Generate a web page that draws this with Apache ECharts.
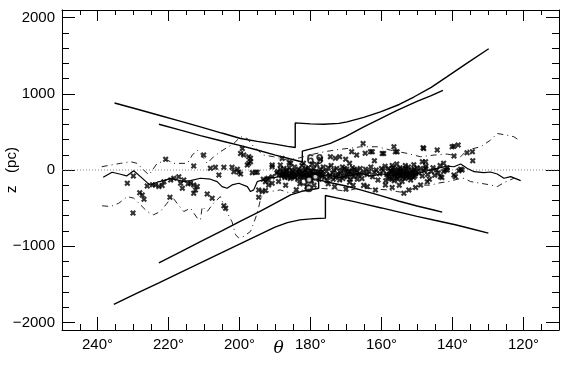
<!DOCTYPE html>
<html><head><meta charset="utf-8">
<script src="https://cdn.jsdelivr.net/npm/echarts@6/dist/echarts.min.js"></script>
<style>html,body{margin:0;padding:0;background:#fff}#c{width:570px;height:365px}</style>
</head><body><div id="c"></div>
<script>
// axis ticks / labels
const xLabelValues = [120, 140, 160, 180, 200, 220, 240];
const yLabelValues = [-2000, -1000, 0, 1000, 2000];
const yMinorValues = [-2000,-1800,-1600,-1400,-1200,-1000,-800,-600,-400,-200,0,200,400,600,800,1000,1200,1400,1600,1800,2000];

// boundary curves [theta, z]
const upperOuter = [[235.2,880],[229,800],[222.7,719],[217,645],[211,566],[205,485],[199.7,414],[195,375],[190,340],[186.5,310],[184.3,295],[184.3,618],[180,605],[176.3,601],[172,612],[169.7,631],[165,690],[160.3,762],[155,860],[150.9,958],[146,1085],[141.5,1225],[136,1400],[129.8,1591]];
const upperInner = [[222.7,601],[216.6,523],[211,452],[205,380],[199.7,320],[195,262],[189.9,196],[185.6,144],[182.3,105],[182.3,248],[178,300],[174.4,349],[170,440],[165,566],[160.3,675],[155.6,784],[150,900],[146,975],[142.7,1046]];
const lowerInner = [[222.7,-1219],[216.6,-1075],[211,-940],[205,-800],[199.7,-670],[194.5,-550],[189.9,-435],[185.6,-327],[182,-275],[177.7,-240],[177.7,-130],[174,-170],[170,-210],[165.9,-261],[160,-340],[155,-410],[150,-472],[145,-528],[142.9,-553]];
const lowerOuter = [[235.4,-1764],[229,-1620],[222.7,-1480],[216,-1330],[211,-1220],[205,-1085],[199.7,-965],[195,-860],[190,-750],[186.5,-690],[183,-655],[179,-638],[175.8,-632],[175.8,-335],[172,-372],[168,-412],[165.9,-435],[160,-498],[155,-553],[150,-608],[145,-660],[139.2,-719],[135,-768],[129.9,-828]];

// mean line
const meanLine = [[238.4,-95],[235.9,-30],[233.5,-56],[231.8,-78],[229.8,-9],[227.9,-87],[226,-166],[225.1,-196],[223.2,-160],[221.3,-140],[219.4,-110],[217.6,-130],[216,-150],[213.8,-140],[211,-108],[208.2,-121],[206.3,-153],[204.9,-218],[203.5,-239],[202.1,-196],[200.2,-174],[197.8,-218],[196.9,-283],[196,-261],[195,-153],[193.6,-131],[192.2,-96],[189.9,-96],[187,-70],[185,-110],[183,-60],[181,-90],[179,-50],[177,-80],[175,-60],[172,-100],[169,-70],[166,-40],[163,-80],[160,-50],[157,-70],[154,-30],[151,-60],[148,-20],[146,0],[144.3,22],[141.5,52],[139.6,43],[137.7,78],[135.9,22],[133.9,-22],[131.2,-35],[129.3,-26],[127.4,-52],[125.5,-108],[123.6,-87],[120.8,-140]];

// dash-dot envelopes
const upperEnvelope = [[238.8,43],[236.3,65],[233.5,87],[230.7,109],[228.8,87],[227,0],[225.5,-65],[223.2,87],[220.4,131],[218.5,87],[214.7,87],[213.3,196],[211.9,261],[211,218],[209.1,87],[207.3,174],[205.4,240],[201.6,349],[199.7,436],[197.8,414],[196,305],[193.2,196],[190.4,174],[186.6,131],[183,160],[180,200],[176,240],[172,270],[168,290],[165.9,305],[161.2,305],[157.5,261],[152.8,218],[149,174],[145.2,196],[141.5,209],[137.7,174],[135.9,261],[132.1,305],[129.3,392],[127.4,479],[124.6,457],[122.7,436],[121.3,392]];
const lowerEnvelope = [[238.7,-470],[236.3,-479],[234,-436],[231.6,-349],[229.8,-370],[227.9,-457],[226,-545],[224.2,-588],[222.3,-545],[220.4,-436],[219,-349],[217.6,-436],[215.7,-545],[213.8,-501],[211.9,-632],[211,-654],[210.5,-480],[209.1,-545],[207.3,-436],[205.4,-349],[203.5,-560],[202.1,-680],[201.1,-850],[200.2,-893],[198.8,-871],[196.9,-806],[196,-697],[195,-566],[194.1,-392],[193.2,-290],[191.3,-283],[188.5,-261],[185.6,-305],[182,-260],[178,-240],[174,-250],[170,-280],[166,-230],[162,-250],[158.4,-261],[155.6,-283],[153.7,-296],[151.8,-261],[150.4,-226],[149,-196],[146,-200],[144.3,-174],[141,-150],[138.5,-120],[136.8,-109],[134.9,-152],[132.1,-174],[129.3,-196],[127.4,-218],[125.5,-166],[122.7,-109]];

const zeroLine = [[250,0],[110,0]];

// individual objects (x markers)
const stars = [
[231.6,-174],[229.9,-78],[227.4,-327],[226.9,-383],[230,-566],[228.1,-300],[226,-210],[224.5,-195],[223.7,-196],[222.7,-218],[221.8,-205],[221.3,-153],[220.8,140],[219.6,-357],[219.4,-131],[218.5,-109],[217.1,-87],[216.6,-174],[215.7,-131],[216.1,-240],[214.5,-180],[213.8,-174],[212.9,-196],[211.9,-218],[212.4,-261],[212.9,-305],[212.9,52],[210.1,196],[209.1,-314],[207.7,-370],[208.2,22],[206.8,35],[205.8,-65],[204.4,35],[203.9,-501],[204.4,-470],[202.1,35],[201.6,-22],[200.6,9],[200.2,-30],[199.7,-52],[199.7,218],[198.8,196],[199.2,283],[197.4,174],[196.9,153],[196.9,109],[197.8,65],[197.4,87],[196.4,-35],[195.5,-30],[195,-30],[194.6,-357],[194.6,-261],[193.6,-283],[192.7,-270],[193.3,-122],[192.7,-153],[192.2,-131],[192,-109],[191.8,-196],[190.8,-174],[190.8,-87],[190.8,43],[190.8,65],[188.5,65],[185.6,87],
[189.5,-40],[189.2,-20],[188.8,-60],[188.5,10],[188.1,-80],[187.8,-30],[187.5,20],[187.2,-100],[186.9,-50],[186.6,0],[186.3,-70],[186,30],[185.7,-110],[185.4,-40],[185.1,-10],[184.8,-80],[184.5,40],[184.2,-60],[183.9,-20],[183.6,-120],[183.3,10],[183,-50],[182.7,-90],[182.4,60],[182.1,-30],[181.8,-70],[181.5,0],[181.2,-110],[180.9,-40],[180.6,30],[180.3,-80],[180,-10],[179.7,-140],[179.4,-50],[179.1,20],[178.8,-90],[178.5,-20],[178.2,70],[177.9,-60],[177.6,-120],[177.3,10],[177,-40],[176.7,-80],[176.4,40],
[187.9,-45],[187.4,-75],[186.8,-15],[186.4,-95],[185.9,-60],[185.3,-85],[184.9,-30],[184.4,-100],[183.8,-70],[183.2,-40],[182.8,-10],[182.3,-100],[181.7,-50],[181.3,20],[180.8,-90],[180.4,-60],[180.1,-110],[179.6,-20],[179,-70],[178.4,-100],[177.8,-30],[177.1,-60],[176.6,-20],[176.1,-100],
[188,150],[186,100],[183,-180],[181,-220],[179,-200],[184,-260],[187,-200],[189,-150],[177.2,140],[174.4,174],[170.1,140],[182,90],[179.5,80],
[175.5,-20],[175,30],[174.5,-70],[174.2,60],[173.8,-40],[173.4,0],[173,-100],[172.6,20],[172.2,-60],[171.8,-130],[171.4,-10],[171,40],[170.6,-80],[170.2,-30],[169.8,10],[169.4,-50],[169,-160],[168.6,-20],[168.2,30],[167.8,-90],[167.4,-40],[167,0],[166.5,-70],[166,20],[165.5,-110],[165,-40],[164.5,10],[164,-60],[163.5,-20],[163,40],[162.5,-90],[162,-30],[161.5,0],[161,-130],[160.5,-50],[160,20],
[171.6,-50],[170.9,-110],[170.4,20],[169.6,-90],[169.1,-20],[168.8,-120],[168.3,-60],[167.6,10],[166.8,-120],[166.2,-50],[172.8,-70],[173.6,-120],[174.8,-90],[175.3,-140],
[173,153],[171.8,174],[168.4,240],[165.2,349],[163.1,240],[164.6,220],[167,196],[169,90],[162,120],[162.6,240],[159.8,218],[159.4,218],
[175,-180],[173.2,-220],[170,-250],[168,-200],[165,-200],[164,-218],[161.7,-261],[158.9,-196],
[159.5,-10],[159,50],[158.5,-60],[158,20],[157.7,-110],[157.3,-30],[157,60],[156.6,-80],[156.3,0],[156,-40],[155.7,80],[155.4,-120],[155.1,-20],[154.8,30],[154.5,-70],[154.2,-150],[153.9,10],[153.6,-40],[153.3,60],[153,-90],[152.7,-10],[152.4,40],[152.1,-60],[151.8,-130],[151.5,0],[151.2,-30],[150.9,70],[150.6,-80],[150.3,-20],[150,30],[155.5,-50],[154,-100],[156.8,-20],[152.9,-40],[151,-100],[157.9,-60],[158.8,-140],
[158.2,-90],[157.5,-10],[157.1,-120],[156.7,30],[156.2,-60],[155.8,-100],[155.3,10],[154.9,-80],[154.4,-30],[153.8,-60],[153.4,-110],[153.1,20],[152.6,-70],[152.2,-100],[151.7,-40],[151.3,-80],[150.8,10],[150.4,-50],[154.6,-10],[156.4,-140],
[157,-230],[155,-200],[153.7,-305],[152.3,-261],[150.4,-230],[149,-196],[147.1,-153],[143.4,-87],
[156.5,305],[155.6,240],[156.1,240],[148.3,292],[148.1,283],[144.3,261],[148.5,109],[147.6,109],[147.6,22],[142.5,87],[142,0],
[149.5,-40],[149,20],[148.5,-80],[148,-10],[147.5,50],[147,-60],[146.5,-120],[146,-20],[145.5,30],[145,-70],[144.5,0],[144,-40],[143.5,60],[143,-100],[142.5,-20],[141.5,30],
[139.6,313],[138.4,327],[140.1,305],[139.6,183],[135.9,226],[134.4,240],[134.3,122],[137.7,9],[138.2,-9],[137.3,0],[139.6,-65],[139.2,-87],[141.5,0]
];
const circles = [[181.9,-150],[180.4,-128],[180.5,-240],[178.6,-87]];
const tagLabels = ['6', '9'];
const tagPos = [[180.0,125],[177.4,128]];

const FONT = 'Liberation Sans';
const xSym = 'path://M0,2.5L2.5,0L5,2.5L7.5,0L10,2.5L7.5,5L10,7.5L7.5,10L5,7.5L2.5,10L0,7.5L2.5,5Z';
const black = '#000';

const xBase = {type:'value', min:110, max:250, inverse:true, splitLine:{show:false}};
const yBase = {type:'value', min:-2100, max:2100, splitLine:{show:false}};

const chart = echarts.init(document.getElementById('c'), null, {renderer:'canvas'});
chart.setOption({
  animation:false,
  backgroundColor:'#fff',
  grid:{left:62, right:11, top:10, bottom:35, containLabel:false, outerBoundsMode:'none'},
  xAxis:[
    Object.assign({}, xBase, {position:'bottom', interval:5,
      axisLine:{show:true, onZero:false, lineStyle:{color:black, width:1}},
      axisTick:{show:true, inside:true, length:6, lineStyle:{color:black}},
      axisLabel:{show:true, customValues:xLabelValues, formatter:v=>v+'°', color:black, fontSize:15, fontFamily:FONT, margin:7},
      name:'θ', nameLocation:'middle', nameGap:10, nameMoveOverlap:false,
      nameTextStyle:{fontStyle:'italic', fontSize:17, color:black, fontFamily:'DejaVu Serif', verticalAlign:'top', padding:[0,64,0,0]}}),
    Object.assign({}, xBase, {position:'bottom',
      axisLine:{show:false, onZero:false},
      axisTick:{show:true, inside:true, length:13, customValues:xLabelValues, lineStyle:{color:black}},
      axisLabel:{show:false}}),
    Object.assign({}, xBase, {position:'top', interval:5,
      axisLine:{show:true, onZero:false, lineStyle:{color:black, width:1}},
      axisTick:{show:true, inside:true, length:5, lineStyle:{color:black}},
      axisLabel:{show:false}}),
    Object.assign({}, xBase, {position:'top',
      axisLine:{show:false, onZero:false},
      axisTick:{show:true, inside:true, length:11, customValues:xLabelValues, lineStyle:{color:black}},
      axisLabel:{show:false}})
  ],
  yAxis:[
    Object.assign({}, yBase, {position:'left',
      axisLine:{show:true, onZero:false, lineStyle:{color:black, width:1}},
      axisTick:{show:true, inside:true, length:7, customValues:yMinorValues, lineStyle:{color:black}},
      axisLabel:{show:true, customValues:yLabelValues, formatter:v=>String(v).replace('-','\u2212'), color:black, fontSize:15, fontFamily:FONT, margin:7},
      name:'z   (pc)', nameLocation:'middle', nameGap:43, nameRotate:90, nameMoveOverlap:false,
      nameTextStyle:{fontSize:15, color:black, fontFamily:FONT}}),
    Object.assign({}, yBase, {position:'left',
      axisLine:{show:false, onZero:false},
      axisTick:{show:true, inside:true, length:13, customValues:yLabelValues, lineStyle:{color:black}},
      axisLabel:{show:false}}),
    Object.assign({}, yBase, {position:'right',
      axisLine:{show:true, onZero:false, lineStyle:{color:black, width:1}},
      axisTick:{show:true, inside:true, length:7, customValues:yMinorValues, lineStyle:{color:black}},
      axisLabel:{show:false}}),
    Object.assign({}, yBase, {position:'right',
      axisLine:{show:false, onZero:false},
      axisTick:{show:true, inside:true, length:13, customValues:yLabelValues, lineStyle:{color:black}},
      axisLabel:{show:false}})
  ],
  series:[
    {type:'line', data:zeroLine, showSymbol:false, silent:true, lineStyle:{color:'#888', width:1, type:[1,2]}, z:1},
    {type:'line', data:upperOuter, showSymbol:false, lineStyle:{color:black, width:1.4}},
    {type:'line', data:upperInner, showSymbol:false, lineStyle:{color:black, width:1.4}},
    {type:'line', data:lowerInner, showSymbol:false, lineStyle:{color:black, width:1.4}},
    {type:'line', data:lowerOuter, showSymbol:false, lineStyle:{color:black, width:1.4}},
    {type:'line', data:meanLine, showSymbol:false, lineStyle:{color:black, width:1.2}},
    {type:'line', data:upperEnvelope, showSymbol:false, lineStyle:{color:'#222', width:1, type:[6,4,1,4]}},
    {type:'line', data:lowerEnvelope, showSymbol:false, lineStyle:{color:'#222', width:1, type:[6,4,1,4]}},
    {type:'scatter', data:stars, symbol:xSym, symbolSize:6, itemStyle:{color:black}},
    {type:'scatter', data:circles, symbol:'emptyCircle', symbolSize:6, itemStyle:{color:black, borderColor:black, borderWidth:1.2}},
    {type:'scatter', data:tagPos.map((p,i)=>({value:p, name:tagLabels[i]})), symbolSize:0,
      label:{show:true, position:'inside', formatter:p=>p.name, color:black, fontSize:14, fontWeight:'bold', fontFamily:FONT}}
  ]
});
</script></body></html>
